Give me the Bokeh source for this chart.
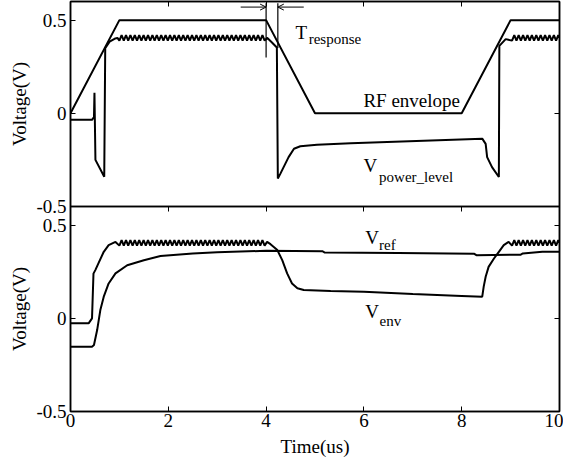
from bokeh.plotting import figure
from bokeh.layouts import row
from bokeh.models import Range1d, LinearAxis, FixedTicker, Label, Span, Arrow, OpenHead
from bokeh.embed import file_html
from bokeh.resources import INLINE

# ---------------- data ----------------
x_ticks = [0, 2, 4, 6, 8, 10]
y_ticks = [-0.5, 0, 0.5]
y_tick_labels = ["-0.5", "0", "0.5"]
y_lo, y_hi = -0.5, 0.6          # voltage range of each panel
y_title = "Voltage(V)"
x_title = "Time(us)"

# RF envelope (top panel)
rf_t = [0, 1, 4, 5, 8, 9, 10]
rf_v = [0, 0.5, 0.5, 0, 0, 0.5, 0.5]

# ripple segments (same timing in both panels)
rip1_t = [1.0, 1.045, 1.09, 1.135, 1.18, 1.225, 1.27, 1.315, 1.36, 1.405,
          1.45, 1.495, 1.54, 1.585, 1.63, 1.675, 1.72, 1.765, 1.81, 1.855,
          1.9, 1.945, 1.99, 2.035, 2.08, 2.125, 2.17, 2.215, 2.26, 2.305,
          2.35, 2.395, 2.44, 2.485, 2.53, 2.575, 2.62, 2.665, 2.71, 2.755,
          2.8, 2.845, 2.89, 2.935, 2.98, 3.025, 3.07, 3.115, 3.16, 3.205,
          3.25, 3.295, 3.34, 3.385, 3.43, 3.475, 3.52, 3.565, 3.61, 3.655,
          3.7, 3.745, 3.79, 3.835, 3.88, 3.925, 3.97]
rip1_v = [0.39, 0.42, 0.39, 0.42, 0.39, 0.42, 0.39, 0.42, 0.39, 0.42,
          0.39, 0.42, 0.39, 0.42, 0.39, 0.42, 0.39, 0.42, 0.39, 0.42,
          0.39, 0.42, 0.39, 0.42, 0.39, 0.42, 0.39, 0.42, 0.39, 0.42,
          0.39, 0.42, 0.39, 0.42, 0.39, 0.42, 0.39, 0.42, 0.39, 0.42,
          0.39, 0.42, 0.39, 0.42, 0.39, 0.42, 0.39, 0.42, 0.39, 0.42,
          0.39, 0.42, 0.39, 0.42, 0.39, 0.42, 0.39, 0.42, 0.39, 0.42,
          0.39, 0.42, 0.39, 0.42, 0.39, 0.42, 0.39]
rip2_t = [9.03, 9.075, 9.12, 9.165, 9.21, 9.255, 9.3, 9.345, 9.39, 9.435,
          9.48, 9.525, 9.57, 9.615, 9.66, 9.705, 9.75, 9.795, 9.84, 9.885,
          9.93, 9.975]
rip2_v = [0.39, 0.42, 0.39, 0.42, 0.39, 0.42, 0.39, 0.42, 0.39, 0.42,
          0.39, 0.42, 0.39, 0.42, 0.39, 0.42, 0.39, 0.42, 0.39, 0.42,
          0.39, 0.42]

# V_power_level (top panel)
pl_a_t = [0, 0.44, 0.48, 0.49, 0.51, 0.69, 0.71, 0.8, 0.9, 0.96]
pl_a_v = [-0.035, -0.035, -0.02, 0.11, -0.25, -0.34, 0.35, 0.385, 0.40, 0.405]
pl_b_t = [4.02, 4.12, 4.22, 4.24, 4.29, 4.46, 4.57, 4.7, 5.04, 5.73, 8.42,
          8.49, 8.52, 8.62, 8.76, 8.77, 8.9]
pl_b_v = [0.405, 0.38, 0.353, -0.35, -0.325, -0.235, -0.19, -0.177, -0.169,
          -0.16, -0.136, -0.164, -0.235, -0.289, -0.342, 0.362, 0.398]
pl_end_t = [10]
pl_end_v = [0.405]

# V_env (bottom panel)
env_a_t = [0, 0.37, 0.44, 0.47, 0.51, 0.58, 0.68, 0.78, 0.92]
env_a_v = [-0.027, -0.027, 0.0, 0.24, 0.26, 0.30, 0.357, 0.393, 0.41]
env_b_t = [4.02, 4.09, 4.23, 4.33, 4.43, 4.53, 4.64, 4.77, 5.32, 6.0, 7.0,
           8.0, 8.42, 8.45, 8.49, 8.55, 8.66, 8.76, 8.86, 8.96]
env_b_v = [0.41, 0.398, 0.366, 0.312, 0.241, 0.187, 0.161, 0.152, 0.146,
           0.142, 0.13, 0.12, 0.116, 0.17, 0.223, 0.276, 0.321, 0.357, 0.393, 0.41]
env_end_t = [10]
env_end_v = [0.405]

# V_ref (bottom panel)
ref_t = [0, 0.44, 0.48, 0.545, 0.61, 0.68, 0.78, 0.92, 1.16, 1.5, 1.84, 2.5,
         3.0, 4.0, 5.15, 5.2, 6.7, 8.25, 8.3, 9.2, 9.25, 9.65, 10]
ref_v = [-0.152, -0.152, -0.143, -0.063, 0.044, 0.116, 0.187, 0.241, 0.285,
         0.312, 0.334, 0.348, 0.355, 0.362, 0.36, 0.353, 0.35, 0.347, 0.339,
         0.341, 0.348, 0.357, 0.357]

# T_response markers (top panel)
marker_t = [4.0, 4.24]
marker_y0 = [0.30, 0.35]
marker_y1 = [0.59, 0.59]
arrow_y = 0.57
arrow_left = (3.48, 4.0)
arrow_right = (4.77, 4.24)

# ---------------- figure ----------------
FONT = "Liberation Serif"
span = y_hi - y_lo
FRAME_H = 410

p = figure(frame_width=489, frame_height=FRAME_H,
           x_range=Range1d(0, 10), y_range=Range1d(y_lo, y_hi + span),
           output_backend="svg", toolbar_location=None,
           min_border_left=38, min_border_right=4, min_border_top=1,
           min_border_bottom=0)
p.extra_y_ranges = {"top": Range1d(y_lo - span, y_hi)}
p.xgrid.visible = False
p.ygrid.visible = False
p.outline_line_color = "black"
p.outline_line_width = 1.5
p.background_fill_color = "white"
p.border_fill_color = "white"

tick_pos = list(y_ticks) + [round(t + span, 6) for t in y_ticks]
tick_lab = list(y_tick_labels) + list(y_tick_labels)
overrides = {pos: lab for pos, lab in zip(tick_pos, tick_lab)}


def style_axis(ax, labels=True):
    ax.axis_line_color = "black"
    ax.axis_line_width = 1.5
    ax.major_tick_in = 5
    ax.major_tick_out = 0
    ax.minor_tick_in = 0
    ax.minor_tick_out = 0
    ax.major_tick_line_color = "black"
    ax.major_tick_line_width = 1
    if labels:
        ax.major_label_text_font = FONT
        ax.major_label_text_font_size = "19px"
        ax.major_label_text_color = "black"
    else:
        ax.major_label_text_font_size = "0px"
        ax.major_label_text_color = None
        ax.major_label_standoff = 0


# left
p.yaxis.ticker = FixedTicker(ticks=tick_pos)
p.yaxis.major_label_overrides = overrides
style_axis(p.yaxis[0])
p.yaxis.major_label_standoff = 4

# bottom
p.xaxis.ticker = FixedTicker(ticks=x_ticks)
style_axis(p.xaxis[0])
p.xaxis.major_label_standoff = 2
p.xaxis.axis_label = x_title
p.xaxis.axis_label_text_font = FONT
p.xaxis.axis_label_text_font_size = "19px"
p.xaxis.axis_label_text_font_style = "normal"
p.xaxis.axis_label_text_color = "black"
p.xaxis.axis_label_standoff = 6

right_ax = LinearAxis(ticker=FixedTicker(ticks=tick_pos))
style_axis(right_ax, labels=False)
p.add_layout(right_ax, "right")

top_ax = LinearAxis(ticker=FixedTicker(ticks=x_ticks))
style_axis(top_ax, labels=False)
p.add_layout(top_ax, "above")

# divider between panels, with the lower panel's top ticks
p.add_layout(Span(location=y_hi, dimension="width", line_color="black",
                  line_width=1.5))
mid_ax = LinearAxis(ticker=FixedTicker(ticks=x_ticks), fixed_location=y_hi)
style_axis(mid_ax, labels=False)
p.add_layout(mid_ax, "above")

# ---- top panel curves ----
p.line(rf_t, rf_v, y_range_name="top", line_color="black", line_width=2)
p.line(pl_a_t + rip1_t + pl_b_t + rip2_t + pl_end_t,
       pl_a_v + rip1_v + pl_b_v + rip2_v + pl_end_v,
       y_range_name="top", line_color="black", line_width=2)

# ---- bottom panel curves ----
p.line(ref_t, ref_v, line_color="black", line_width=2)
p.line(env_a_t + rip1_t + env_b_t + rip2_t + env_end_t,
       env_a_v + rip1_v + env_b_v + rip2_v + env_end_v,
       line_color="black", line_width=2)

# ---- T_response annotation ----
p.segment(x0=marker_t, y0=marker_y0, x1=marker_t, y1=marker_y1,
          y_range_name="top", line_color="black", line_width=1.2)
p.add_layout(Arrow(end=OpenHead(size=6, line_width=1, line_color="black"),
                   x_start=arrow_left[0], y_start=arrow_y,
                   x_end=arrow_left[1], y_end=arrow_y,
                   y_range_name="top", line_color="black", line_width=1))
p.add_layout(Arrow(end=OpenHead(size=6, line_width=1, line_color="black"),
                   x_start=arrow_right[0], y_start=arrow_y,
                   x_end=arrow_right[1], y_end=arrow_y,
                   y_range_name="top", line_color="black", line_width=1))


def add_text(fig, x, y, text, size="19px", rng="default", angle=0,
             align="left", baseline="alphabetic"):
    fig.add_layout(Label(x=x, y=y, text=text, y_range_name=rng,
                         angle=angle, angle_units="deg",
                         text_font=FONT, text_font_size=size,
                         text_color="black", text_align=align,
                         text_baseline=baseline))


add_text(p, 4.60, 0.432, "T", rng="top")
add_text(p, 4.87, 0.398, "response", size="15px", rng="top")
add_text(p, 5.99, 0.068, "RF envelope", rng="top")
add_text(p, 5.99, -0.28, "V", rng="top")
add_text(p, 6.31, -0.34, "power_level", size="15px", rng="top")
add_text(p, 6.03, 0.434, "V")
add_text(p, 6.31, 0.392, "ref", size="15px")
add_text(p, 6.03, 0.036, "V")
add_text(p, 6.32, -0.013, "env", size="15px")

# ---- narrow strip at the left holding the two y-axis titles ----
lab = figure(frame_width=32, frame_height=FRAME_H,
             x_range=Range1d(0, 32), y_range=Range1d(y_lo, y_hi + span),
             output_backend="svg", toolbar_location=None,
             x_axis_location=None, y_axis_location=None,
             min_border_left=0, min_border_right=0, min_border_top=1,
             min_border_bottom=50)
lab.extra_y_ranges = {"top": Range1d(y_lo - span, y_hi)}
lab.xgrid.visible = False
lab.ygrid.visible = False
lab.outline_line_color = None
lab.background_fill_color = "white"
lab.border_fill_color = "white"
for rng in ("top", "default"):
    add_text(lab, 19, (y_lo + y_hi) / 2, y_title, rng=rng, angle=90,
             align="center", baseline="middle")

layout = row(lab, p)
open("out.html", "w").write(file_html(layout, INLINE))
